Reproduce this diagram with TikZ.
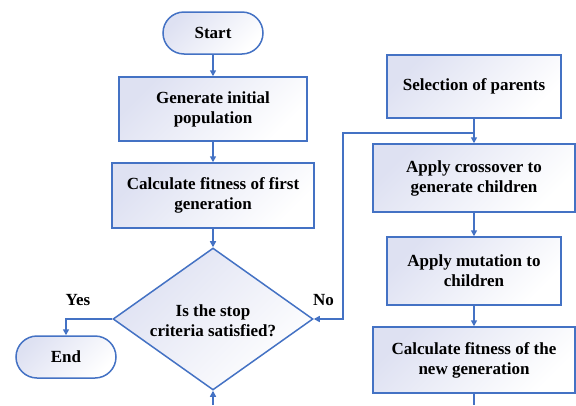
\documentclass[tikz,border=0pt]{standalone}
\usepackage{fontspec}
\setmainfont{Liberation Serif}
\usetikzlibrary{shapes.geometric,arrows.meta}
\definecolor{edgeblue}{RGB}{68,114,196}
\definecolor{boxfill}{RGB}{222,225,242}
\begin{document}
\begin{tikzpicture}[x=1pt,y=-1pt,
  base/.style={draw=edgeblue, line width=1.5pt, top color=boxfill, bottom color=white, shading angle=45,
    font=\bfseries\fontsize{17}{20}\selectfont, align=center, inner sep=0pt},
  procbox/.style={base, rectangle},
  termbox/.style={base, rectangle, rounded corners=21pt},
  decbox/.style={base, diamond},
  lbl/.style={font=\bfseries\fontsize{17}{20}\selectfont, inner sep=0pt, align=center},
  conn/.style={draw=edgeblue, line width=1.5pt},
  arr/.style={conn, -{Triangle[length=6pt,width=6pt]}}
]
\useasboundingbox (0,0) rectangle (576,405);
\node[termbox, minimum width=100pt, minimum height=42pt] (start) at (213,33) {Start};
\node[procbox, minimum width=188pt, minimum height=64pt] (gen) at (213,109) {Generate initial\\population};
\node[procbox, minimum width=202pt, minimum height=65pt] (calc1) at (213,195.5) {Calculate fitness of first\\generation};
\node[decbox, minimum width=200pt, minimum height=142pt] (dec) at (213,319) {};
\node[lbl] (dectext) at (213,321) {Is the stop\\criteria satisfied?};
\node[termbox, minimum width=100pt, minimum height=42pt] (end) at (66,357) {End};
\node[procbox, minimum width=174pt, minimum height=63pt] (sel) at (474,86.5) {Selection of parents};
\node[procbox, minimum width=202pt, minimum height=68pt] (cross) at (474,178) {Apply crossover to\\generate children};
\node[procbox, minimum width=174pt, minimum height=68pt] (mut) at (474,271) {Apply mutation to\\children};
\node[procbox, minimum width=202pt, minimum height=66pt] (calc2) at (474,360) {Calculate fitness of the\\new generation};
\node[lbl] (yes) at (78,300) {Yes};
\node[lbl] (no) at (323.5,300) {No};
\coordinate (j) at (474,133);
\coordinate (nocorner1) at (343,133);
\coordinate (nocorner2) at (343,319);
\coordinate (yescorner) at (66,319);
\coordinate (botin) at (213,405);
\coordinate (botout) at (474,405);
\draw[arr] (start) -- (gen);
\draw[arr] (gen) -- (calc1);
\draw[arr] (calc1) -- (dec);
\draw[arr] (sel) -- (cross);
\draw[arr] (cross) -- (mut);
\draw[arr] (mut) -- (calc2);
\draw[arr] (dec.west) -- (yescorner) -- (end.north);
\draw[arr] (j) -- (nocorner1) -- (nocorner2) -- (dec.east);
\draw[arr] (botin) -- (dec.south);
\draw[conn] (calc2.south) -- (botout);
\end{tikzpicture}
\end{document}
